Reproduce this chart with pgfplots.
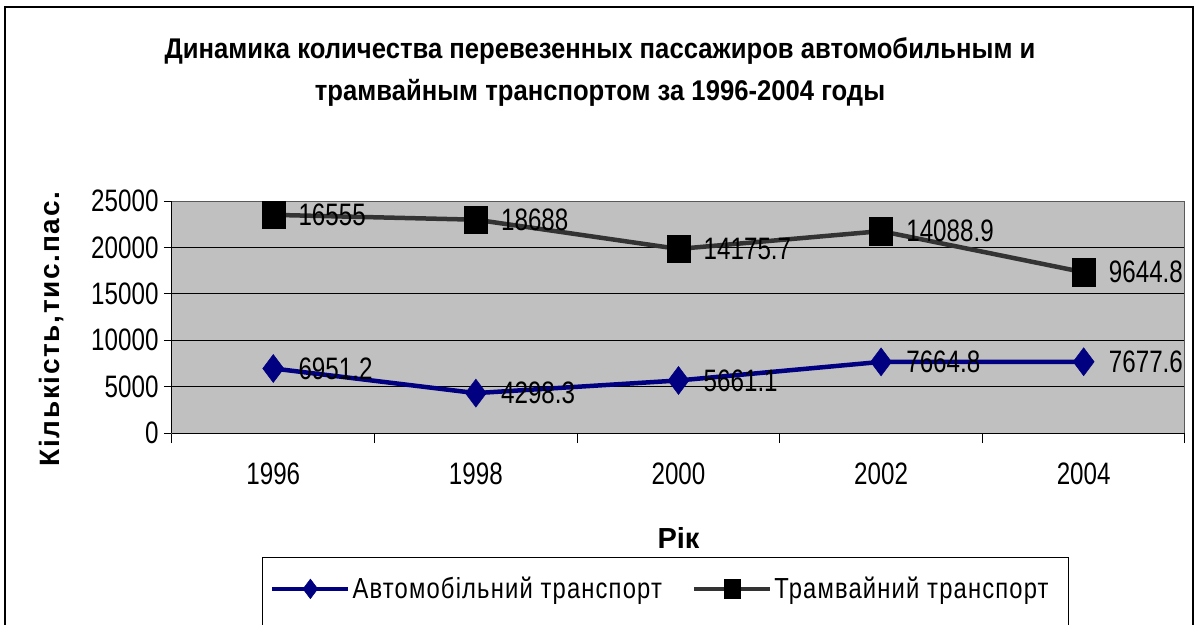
\documentclass[border=0pt]{standalone}
\usepackage{fontspec}
\setmainfont{Liberation Sans}
\newfontfamily\condfont{Liberation Sans}[FakeStretch=0.78]
\newfontfamily\legfont{Liberation Sans}[FakeStretch=0.82, LetterSpace=4]
\newfontfamily\titlefont{Liberation Sans}[FakeStretch=0.9]
\newfontfamily\ylabfont{Liberation Sans}[LetterSpace=6]
\usepackage{pgfplots}
\usepackage{pgfplotstable}
\usetikzlibrary{calc}
\pgfplotsset{compat=1.18}
\definecolor{navy}{RGB}{0,0,128}
\definecolor{tramgray}{RGB}{51,51,51}
\definecolor{plotbg}{RGB}{192,192,192}

\pgfplotstableread{
x y lab
0 6951.2 6951.2
1 4298.3 4298.3
2 5661.1 5661.1
3 7664.8 7664.8
4 7677.6 7677.6
}\autotab

\pgfplotstableread{
x y lab
0 16555 16555
1 18688 18688
2 14175.7 14175.7
3 14088.9 14088.9
4 9644.8 9644.8
}\tramtab

\begin{document}
\begin{tikzpicture}[x=1pt,y=1pt]
\begin{axis}[
  width=1013pt, height=232pt, scale only axis,
  xmin=-0.5, xmax=4.5, ymin=0, ymax=25000,
  stack plots=y,
  axis background/.style={fill=plotbg},
  axis line style={draw=gray!70!black, line width=1pt},
  xtick={0,1,2,3,4},
  xticklabels={1996,1998,2000,2002,2004},
  minor xtick={-0.5,0.5,1.5,2.5,3.5,4.5},
  every major x tick/.append style={draw=none},
  every minor x tick/.append style={black, line width=1pt},
  minor tick length=10pt,
  major tick length=8pt,
  ytick={0,5000,10000,15000,20000,25000},
  every major y tick/.append style={black, line width=1pt},
  tick align=outside, tick pos=left,
  scaled y ticks=false,
  yticklabel style={/pgf/number format/1000 sep={}, font=\condfont\fontsize{31}{31}\selectfont, xshift=-2pt},
  xticklabel style={font=\condfont\fontsize{31}{31}\selectfont, yshift=-18pt},
  /pgf/number format/assume math mode=true,
  ymajorgrids, grid style={black, line width=0.9pt},
  title={Динамика количества перевезенных пассажиров автомобильным и\\трамвайным транспортом за 1996-2004 годы},
  title style={at={(axis description cs:0.4225,1.530)}, anchor=center, align=center, font=\titlefont\bfseries\fontsize{28.5}{42}\selectfont},
  xlabel={Рік},
  xlabel style={at={(axis description cs:0.5,-0.4526)}, anchor=center, font=\bfseries\fontsize{29}{29}\selectfont},
  ylabel={Кількість,тис.пас.},
  ylabel style={at={(axis description cs:-0.1194,0.448)}, anchor=center, font=\ylabfont\bfseries\fontsize{28}{28}\selectfont},
  point meta=explicit symbolic,
  nodes near coords,
  nodes near coords align=horizontal,
  every node near coord/.append style={anchor=west, xshift=25pt, black, inner sep=0pt, font=\condfont\fontsize{31}{31}\selectfont},
  legend columns=2,
  legend style={at={(axis description cs:0.0967,-0.672)}, anchor=west, draw=none, fill=none, inner sep=0pt,
    font=\legfont\fontsize{29}{29}\selectfont,
    /tikz/every even column/.append style={column sep=28pt}},
  legend image code/.code={\draw[#1, every mark/.append style={scale=0.7}, mark repeat=2, mark phase=2] plot coordinates {(0pt,0pt)(38pt,0pt)(76pt,0pt)};},
  after end axis/.code={
    \draw[black, line width=1pt] (rel axis cs:0,0) -- (rel axis cs:1,0);
    \draw[black, line width=1pt] (rel axis cs:0,0) -- (rel axis cs:0,1);
    \coordinate (O) at (rel axis cs:0,0);
  },
]
\addplot[color=navy, line width=4.5pt, mark=diamond*, mark size=14pt,
  mark options={solid, fill=navy, draw=navy, line width=0.5pt}]
  table[x=x, y=y, meta=lab] {\autotab};
\addlegendentry{Автомобільний транспорт}
\addplot[color=tramgray, line width=4.5pt, mark=square*, mark size=11.5pt,
  mark options={solid, fill=black, draw=black, line width=0.5pt, yscale=1.2}]
  table[x=x, y=y, meta=lab] {\tramtab};
\addlegendentry{Трамвайний транспорт}
\end{axis}
\draw[black, line width=1pt] ($(O)+(90,-124)$) rectangle ($(O)+(896,-240)$);
\draw[black, line width=1.2pt] ($(O)+(-167,426)$) rectangle ($(O)+(1021,-240)$);
\pgfresetboundingbox
\path[use as bounding box] ($(O)+(-172,-191)$) rectangle ($(O)+(1026,433)$);
\end{tikzpicture}
\end{document}
